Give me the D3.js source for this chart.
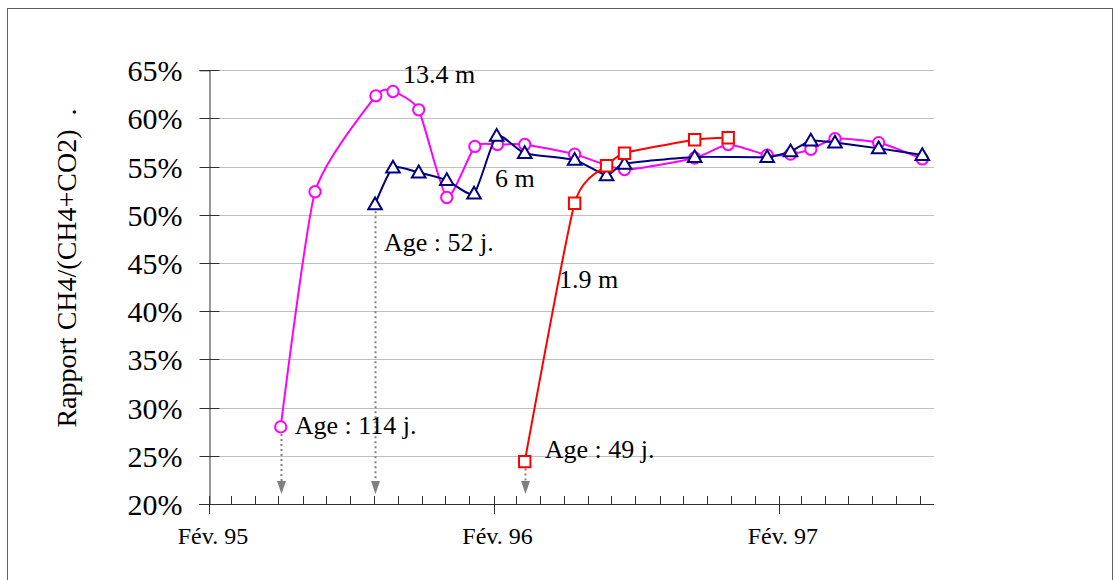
<!DOCTYPE html>
<html>
<head>
<meta charset="utf-8">
<script src="https://cdn.jsdelivr.net/npm/d3@7"></script>
<style>
  html, body { margin: 0; padding: 0; background: #fff; }
  svg { display: block; }
  text { font-family: "Liberation Serif", "Times New Roman", serif; fill: #000; }
</style>
</head>
<body>
<svg id="chart" width="1115" height="580"></svg>
<script>
// Sampling dates (yyyy-mm-dd) and CH4/(CH4+CO2) ratios in %, per depth
const datesA = ["1995-05-04","1995-06-17","1995-09-03","1995-09-25","1995-10-28","1995-12-03",
                "1996-01-08","1996-02-06","1996-03-12","1996-05-15","1996-07-18","1996-10-16",
                "1996-11-28","1997-01-17","1997-02-16","1997-03-14","1997-04-14","1997-06-09","1997-08-04"];
const valuesA = [28.0, 52.4, 62.35, 62.8, 60.9, 51.8, 57.1, 57.3, 57.3, 56.3, 54.7, 55.9,
                 57.3, 56.2, 56.3, 56.8, 57.9, 57.5, 55.8];

const datesB = ["1995-09-02","1995-09-25","1995-10-28","1995-12-03","1996-01-07","1996-02-05",
                "1996-03-12","1996-05-15","1996-06-25","1996-07-18","1996-10-16","1997-01-17",
                "1997-02-16","1997-03-14","1997-04-14","1997-06-09","1997-08-04"];
const valuesB = [51.1, 54.9, 54.4, 53.6, 52.2, 58.2, 56.4, 55.7, 54.1, 55.3, 56.0, 56.0,
                 56.6, 57.7, 57.5, 56.9, 56.2];

const datesC = ["1996-03-12","1996-05-15","1996-06-25","1996-07-18","1996-10-16","1996-11-28"];
const valuesC = [24.4, 51.2, 55.1, 56.4, 57.8, 58.0];

const seriesNames = ["13.4 m", "6 m", "1.9 m"];
const ageLabels = ["Age : 114 j.", "Age : 52 j.", "Age : 49 j."];
const yTicks = [20, 25, 30, 35, 40, 45, 50, 55, 60, 65];
const xMajorLabels = ["Fév. 95", "Fév. 96", "Fév. 97"];
const yTitle = "Rapport CH4/(CH4+CO2)  .";

const parse = d3.timeParse("%Y-%m-%d");
const svg = d3.select("#chart");

// outer frame
svg.append("rect").attr("x", 7.5).attr("y", 8.5).attr("width", 1105).attr("height", 600)
  .attr("fill", "none").attr("stroke", "#606060").attr("stroke-width", 1);

const x = d3.scaleTime()
  .domain([new Date(1995, 1, 1), new Date(1997, 7, 19)])
  .range([209, 934]);
const y = d3.scaleLinear().domain([20, 65]).range([504, 70.3]);

// horizontal gridlines
svg.append("g").selectAll("line").data(yTicks.slice(1)).join("line")
  .attr("x1", 209).attr("x2", 934)
  .attr("y1", d => Math.round(y(d)) + 0.5).attr("y2", d => Math.round(y(d)) + 0.5)
  .attr("stroke", "#c0c0c0").attr("stroke-width", 1);

// y axis
const yAxis = d3.axisLeft(y).tickValues(yTicks).tickSize(10).tickPadding(17)
  .tickFormat(d => d + "%");
const gy = svg.append("g").attr("transform", "translate(209.5,0)").call(yAxis);
gy.select(".domain").attr("stroke", "#303030");
gy.selectAll(".tick line").attr("x2", -10).attr("x1", 10).attr("stroke", "#303030");
gy.selectAll(".tick text").attr("font-size", 30).attr("font-family", "Liberation Serif")
  .attr("dy", "0.35em").attr("x", -27);
gy.selectAll(".tick").attr("transform", d => `translate(0,${Math.round(y(d)) + 0.5})`);

// x axis: monthly minor ticks above, yearly (February) major ticks crossing
const months = d3.timeMonth.range(new Date(1995, 1, 1), new Date(1997, 7, 19));
const gx = svg.append("g");
gx.append("line").attr("x1", 199).attr("x2", 934).attr("y1", 504.5).attr("y2", 504.5)
  .attr("stroke", "#303030");
gx.selectAll("line.minor").data(months).join("line").attr("class", "minor")
  .attr("x1", d => Math.round(x(d)) + 0.5).attr("x2", d => Math.round(x(d)) + 0.5)
  .attr("y1", 496).attr("y2", 504.5).attr("stroke", "#303030");
const majors = months.filter(d => d.getMonth() === 1);
gx.selectAll("line.major").data(majors).join("line").attr("class", "major")
  .attr("x1", d => Math.round(x(d)) + 0.5).attr("x2", d => Math.round(x(d)) + 0.5)
  .attr("y1", 496).attr("y2", 514).attr("stroke", "#303030");
gx.selectAll("text").data(majors).join("text")
  .attr("x", d => x(d) + 4).attr("y", 544).attr("text-anchor", "middle")
  .attr("font-size", 24).text((d, i) => xMajorLabels[i]);

// y title
svg.append("text").attr("transform", "translate(76,268) rotate(-90)")
  .attr("text-anchor", "middle").attr("font-size", 28).style("white-space", "pre")
  .text(yTitle);

const series = [
  { dates: datesA, values: valuesA, color: "#ff00ff", marker: "circle" },
  { dates: datesB, values: valuesB, color: "#000080", marker: "triangle" },
  { dates: datesC, values: valuesC, color: "#ff0000", marker: "square" }
].map(s => ({ ...s, pts: s.dates.map((d, i) => ({ date: parse(d), v: s.values[i] })) }));

// smoothed lines through every sample
const line = d3.line().x(d => x(d.date)).y(d => y(d.v)).curve(d3.curveCardinal.tension(0.45));

// dotted arrows from each series start down to the time axis
const arrows = svg.append("g");
series.forEach(s => {
  const p = s.pts[0];
  const px = Math.round(x(p.date)) + 0.5;
  const top = y(p.v) + 7;
  arrows.append("line").attr("x1", px).attr("x2", px).attr("y1", top).attr("y2", 483)
    .attr("stroke", "#808080").attr("stroke-width", 2).attr("stroke-dasharray", "2,3");
  arrows.append("path").attr("d", `M${px - 4.5},481L${px + 4.5},481L${px},494Z`).attr("fill", "#808080");
});

series.forEach(s => {
  const g = svg.append("g");
  g.append("path").datum(s.pts).attr("d", line).attr("fill", "none")
    .attr("stroke", s.color).attr("stroke-width", 2);
  const sym = s.marker === "circle" ? d3.symbol(d3.symbolCircle, 100)
            : s.marker === "triangle" ? d3.symbol(d3.symbolTriangle, 80)
            : d3.symbol(d3.symbolSquare, 130);
  g.selectAll("path.m").data(s.pts).join("path").attr("class", "m")
    .attr("transform", d => `translate(${x(d.date)},${y(d.v) + (s.marker === "triangle" ? 1 : 0)})`)
    .attr("d", sym).attr("fill", "#fff").attr("stroke", s.color).attr("stroke-width", 2);
});

// series and age annotations
const ann = svg.append("g").attr("font-size", 26);
ann.append("text").attr("x", x(parse("1995-10-08"))).attr("y", y(63.7)).text(seriesNames[0]);
ann.append("text").attr("x", x(parse("1996-02-03"))).attr("y", y(52.9)).text(seriesNames[1]);
ann.append("text").attr("x", x(parse("1996-04-25"))).attr("y", y(42.4)).text(seriesNames[2]);
ann.append("text").attr("x", x(series[0].pts[0].date) + 14).attr("y", y(series[0].pts[0].v) + 7).text(ageLabels[0]);
ann.append("text").attr("x", x(series[1].pts[0].date) + 9).attr("y", y(series[1].pts[0].v) + 47).text(ageLabels[1]);
ann.append("text").attr("x", x(series[2].pts[0].date) + 20).attr("y", y(series[2].pts[0].v) - 4).text(ageLabels[2]);
</script>
</body>
</html>
